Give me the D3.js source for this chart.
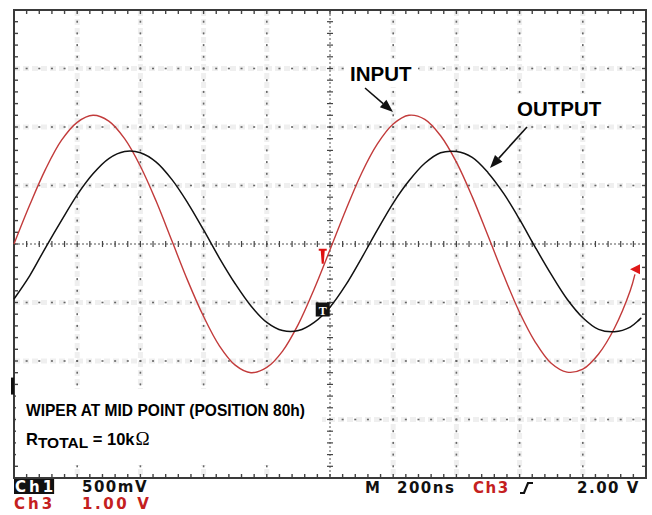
<!DOCTYPE html>
<html>
<head>
<meta charset="utf-8">
<script src="https://cdn.jsdelivr.net/npm/d3@7"></script>
<style>
  body { margin: 0; background: #fff; }
  svg { display: block; }
</style>
</head>
<body>
<div id="scope"></div>
<script>
// Ch3 (INPUT, red) samples: time in ns, volts
const inputTimes = [0, 50, 100, 150, 200, 250, 300, 350, 400, 450, 500, 550, 600, 650, 700, 750, 800, 850, 900, 950,
  1000, 1050, 1100, 1150, 1200, 1250, 1300, 1350, 1400, 1450, 1500, 1550, 1600, 1650, 1700, 1750, 1800, 1850, 1900, 1950, 1965];
const inputVolts = [0.00, 0.67, 1.28, 1.77, 2.08, 2.20, 2.10, 1.80, 1.33, 0.73, 0.05, -0.63, -1.24, -1.74, -2.07, -2.20, -2.11, -1.83, -1.37, -0.77,
  -0.10, 0.58, 1.21, 1.71, 2.05, 2.20, 2.13, 1.85, 1.40, 0.81, 0.14, -0.54, -1.17, -1.68, -2.04, -2.19, -2.14, -1.88, -1.44, -0.80, -0.52];

// Ch1 (OUTPUT, black) samples
const outputTimes = [0, 50, 100, 150, 200, 250, 300, 350, 400, 450, 500, 550, 600, 650, 700, 750, 800, 850, 900, 950,
  1000, 1050, 1100, 1150, 1200, 1250, 1300, 1350, 1400, 1450, 1500, 1550, 1600, 1650, 1700, 1750, 1800, 1850, 1900, 1950, 1985];
const outputVolts = [-0.47, -0.27, -0.03, 0.20, 0.42, 0.60, 0.73, 0.79, 0.78, 0.70, 0.55, 0.35, 0.12, -0.12, -0.34, -0.53, -0.67, -0.74, -0.74, -0.67,
  -0.54, -0.35, -0.12, 0.12, 0.35, 0.54, 0.69, 0.78, 0.79, 0.74, 0.61, 0.43, 0.21, -0.03, -0.26, -0.47, -0.63, -0.73, -0.75, -0.71, -0.63];

// scope settings
const timePerDiv = 200;     // ns
const ch1VoltsPerDiv = 0.5;
const ch3VoltsPerDiv = 1.0;
const xDivs = 10, yDivs = 8;

// markers (time in ns, level in divisions)
const triggerTime = 977;
const triggerBoxDiv = -1.12;
const ch3MarkDiv = -0.1;
const trigLevelDiv = -0.43;
const ch1GroundDiv = -2.42;

// readout texts
const ch1Label = "Ch1", ch1Scale = "500mV";
const ch3Label = "Ch3", ch3Scale = "1.00 V";
const timeLabel = "M", timeScale = "200ns";
const trigSource = "Ch3", trigLevel = "2.00 V";

const W = 652, H = 515;
const svg = d3.select("#scope").append("svg").attr("width", W).attr("height", H);

const x = d3.scaleLinear().domain([0, timePerDiv * xDivs]).range([14, 646]);
const y = d3.scaleLinear().domain([-yDivs / 2, yDivs / 2]).range([478, 10]);

const minorT = d3.range(0, xDivs * 5 + 1).map(i => i * timePerDiv / 5);
const minorD = d3.range(0, yDivs * 5 + 1).map(j => j / 5 - yDivs / 2);
const majorT = d3.range(1, xDivs).filter(i => i !== xDivs / 2).map(i => i * timePerDiv);
const majorD = d3.range(1, yDivs).filter(j => j !== yDivs / 2).map(j => j - yDivs / 2);

const grid = svg.append("g");

// faint speckle bands along grid lines
grid.selectAll(".vband").data(majorT).enter().append("line")
  .attr("x1", d => x(d)).attr("x2", d => x(d)).attr("y1", y(4)).attr("y2", y(-4))
  .attr("stroke", "#efefef").attr("stroke-width", 5).attr("stroke-dasharray", "6,3");
grid.selectAll(".hband").data(majorD).enter().append("line")
  .attr("y1", d => y(d)).attr("y2", d => y(d)).attr("x1", x(0)).attr("x2", x(2000))
  .attr("stroke", "#efefef").attr("stroke-width", 5).attr("stroke-dasharray", "6,3");

// dotted grid
majorT.forEach(t => {
  grid.selectAll(null).data(minorD).enter().append("rect")
    .attr("x", x(t) - 0.8).attr("y", d => y(d) - 1).attr("width", 1.6).attr("height", 2)
    .attr("fill", "#666");
});
majorD.forEach(v => {
  grid.selectAll(null).data(minorT).enter().append("rect")
    .attr("x", d => x(d) - 1).attr("y", y(v) - 0.8).attr("width", 2).attr("height", 1.6)
    .attr("fill", "#666");
});

// center lines with ticks
grid.append("line").attr("x1", x(0)).attr("x2", x(2000)).attr("y1", y(0)).attr("y2", y(0))
  .attr("stroke", "#555").attr("stroke-dasharray", "2,2");
grid.append("line").attr("x1", x(1000)).attr("x2", x(1000)).attr("y1", y(4)).attr("y2", y(-4))
  .attr("stroke", "#555").attr("stroke-dasharray", "2,2");
grid.selectAll(null).data(minorT).enter().append("line")
  .attr("x1", d => x(d)).attr("x2", d => x(d)).attr("y1", y(0) - 3).attr("y2", y(0) + 3)
  .attr("stroke", "#444").attr("stroke-width", 1.2);
grid.selectAll(null).data(minorD).enter().append("line")
  .attr("y1", d => y(d)).attr("y2", d => y(d)).attr("x1", x(1000) - 3).attr("x2", x(1000) + 3)
  .attr("stroke", "#444").attr("stroke-width", 1.2);

// edge ticks
grid.selectAll(null).data(minorT).enter().append("line")
  .attr("x1", d => x(d)).attr("x2", d => x(d)).attr("y1", y(4)).attr("y2", y(4) + 4)
  .attr("stroke", "#444").attr("stroke-width", 1.4);
grid.selectAll(null).data(minorT).enter().append("line")
  .attr("x1", d => x(d)).attr("x2", d => x(d)).attr("y1", y(-4)).attr("y2", y(-4) - 4)
  .attr("stroke", "#444").attr("stroke-width", 1.4);
grid.selectAll(null).data(minorD).enter().append("line")
  .attr("y1", d => y(d)).attr("y2", d => y(d)).attr("x1", x(0)).attr("x2", x(0) + 4)
  .attr("stroke", "#444").attr("stroke-width", 1.4);
grid.selectAll(null).data(minorD).enter().append("line")
  .attr("y1", d => y(d)).attr("y2", d => y(d)).attr("x1", x(2000)).attr("x2", x(2000) - 4)
  .attr("stroke", "#444").attr("stroke-width", 1.4);

// frame
svg.append("rect").attr("x", x(0)).attr("y", y(4)).attr("width", x(2000) - x(0)).attr("height", y(-4) - y(4))
  .attr("fill", "none").attr("stroke", "#3a3a3a").attr("stroke-width", 2);

// white boxes behind annotations
svg.append("rect").attr("x", 16).attr("y", 389).attr("width", 306).attr("height", 76).attr("fill", "#fff");
svg.append("rect").attr("x", 344).attr("y", 59).attr("width", 74).attr("height", 28).attr("fill", "#fff");
svg.append("rect").attr("x", 511).attr("y", 94).attr("width", 98).attr("height", 27).attr("fill", "#fff");

// waveforms
const line = d3.line().curve(d3.curveCatmullRom);
const inputPts = inputTimes.map((t, i) => [x(t), y(inputVolts[i] / ch3VoltsPerDiv)]);
const outputPts = outputTimes.map((t, i) => [x(t), y(outputVolts[i] / ch1VoltsPerDiv)]);

svg.append("path").attr("d", line(inputPts))
  .attr("fill", "none").attr("stroke", "#c23b3b").attr("stroke-width", 1.4);
svg.append("path").attr("d", line(outputPts))
  .attr("fill", "none").attr("stroke", "#111").attr("stroke-width", 1.5);

// markers
const tx = x(triggerTime);
svg.append("path")
  .attr("d", `M${tx - 4},${y(ch3MarkDiv) - 1} h8 v2 h-2 l-1,13 h-2 l-1,-13 h-2 z`)
  .attr("fill", "#e01010");
svg.append("rect").attr("x", tx - 7).attr("y", y(triggerBoxDiv) - 7).attr("width", 14).attr("height", 14)
  .attr("fill", "#111");
svg.append("text").attr("x", tx).attr("y", y(triggerBoxDiv) + 5)
  .attr("text-anchor", "middle").attr("fill", "#fff")
  .style("font", "bold 12px 'Liberation Serif'").text("T");
svg.append("path")
  .attr("d", `M${x(2000) - 16},${y(trigLevelDiv)} l10,-5 v10 z`)
  .attr("fill", "#e01818");
svg.append("rect").attr("x", x(0) - 3).attr("y", y(ch1GroundDiv) - 8).attr("width", 3).attr("height", 17)
  .attr("fill", "#111");

// annotations
const labelFont = "bold 20.5px 'Liberation Sans', Arial, sans-serif";
svg.append("text").attr("x", 350).attr("y", 81).style("font", labelFont).attr("fill", "#000").text("INPUT");
svg.append("text").attr("x", 517).attr("y", 116).style("font", labelFont).attr("fill", "#000").text("OUTPUT");

function arrow(x1, y1, x2, y2) {
  const a = Math.atan2(y2 - y1, x2 - x1);
  const len = 13, half = 5;
  const bx = x2 - len * Math.cos(a), by = y2 - len * Math.sin(a);
  svg.append("line").attr("x1", x1).attr("y1", y1).attr("x2", bx).attr("y2", by)
    .attr("stroke", "#111").attr("stroke-width", 1.6);
  svg.append("path")
    .attr("d", `M${x2},${y2} L${bx + half * Math.sin(a)},${by - half * Math.cos(a)} L${bx - half * Math.sin(a)},${by + half * Math.cos(a)} Z`)
    .attr("fill", "#111");
}
arrow(365, 88, 393, 112);
arrow(527, 127, 490, 168);

svg.append("text").attr("x", 26).attr("y", 416)
  .attr("textLength", 279).attr("lengthAdjust", "spacingAndGlyphs")
  .style("font", "bold 16.5px 'Liberation Sans', Arial, sans-serif").attr("fill", "#000")
  .text("WIPER AT MID POINT (POSITION 80h)");

const rt = svg.append("text").attr("x", 26).attr("y", 445).attr("fill", "#000")
  .style("font", "bold 16.5px 'Liberation Sans', Arial, sans-serif");
rt.append("tspan").text("R");
rt.append("tspan").attr("dy", 3).style("font-size", "15.5px").text("TOTAL");
rt.append("tspan").attr("dy", -3).text(" = 10k");
rt.append("tspan").attr("dx", 1).style("font", "19px 'Liberation Serif', serif").text("\u03A9");

// readout
const roFont = "bold 15px 'DejaVu Sans', sans-serif";
function readout(txt, xx, yy, color, spacing) {
  return svg.append("text").attr("x", xx).attr("y", yy).attr("fill", color)
    .style("font", roFont).style("letter-spacing", (spacing || 1.5) + "px").text(txt);
}
const ch1Text = readout(ch1Label, 15, 492, "#fff", 3);
const bb = ch1Text.node().getBBox();
svg.insert("rect", () => ch1Text.node())
  .attr("x", 14).attr("y", 479).attr("width", bb.width - 1).attr("height", 15).attr("fill", "#111");
readout(ch1Scale, 82, 492, "#111");
readout(ch3Label, 14, 509, "#c42020", 3);
readout(ch3Scale, 82, 509, "#c42020", 2.6);
readout(timeLabel, 365, 493, "#111");
readout(timeScale, 397, 493, "#111");
readout(trigSource, 473, 493, "#c42020");
svg.append("path").attr("d", "M520,493 h4 l4,-10 h5")
  .attr("fill", "none").attr("stroke", "#111").attr("stroke-width", 2.2);
readout(trigLevel, 577, 493, "#111");
</script>
</body>
</html>
